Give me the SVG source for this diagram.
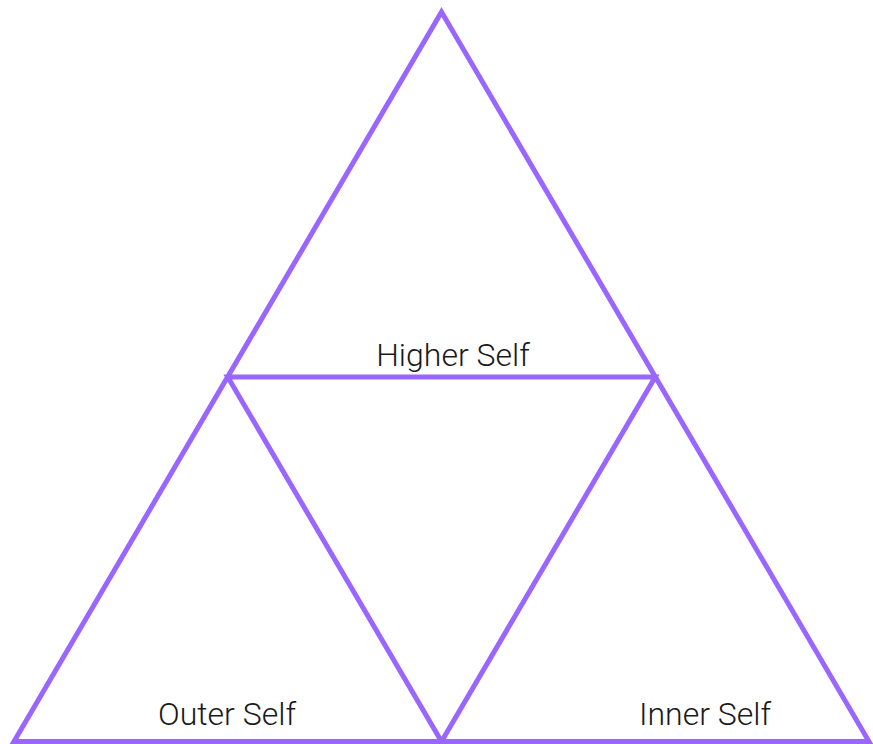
<svg xmlns="http://www.w3.org/2000/svg" width="873" height="744" viewBox="0 0 873 744">
<style>
.edge{fill:none;stroke:#9966FF;stroke-width:5;stroke-linejoin:miter;stroke-linecap:butt}
.lbl{font-family:Roboto,"Liberation Sans",sans-serif;font-weight:300;font-size:32px;fill:#1a1a1a;text-anchor:middle}
</style>
<rect width="873" height="744" fill="#ffffff"/>
<g id="connectors">
<polygon class="edge" points="441.5,12 869,741.5 14,741.5"/>
<polygon class="edge" points="227.75,377 655.25,377 441.5,741.5"/>
</g>
<g id="higher-self"><text class="lbl" x="453" y="366">Higher Self</text></g>
<g id="outer-self"><text class="lbl" x="227" y="725">Outer Self</text></g>
<g id="inner-self"><text class="lbl" x="705" y="725">Inner Self</text></g>
</svg>
